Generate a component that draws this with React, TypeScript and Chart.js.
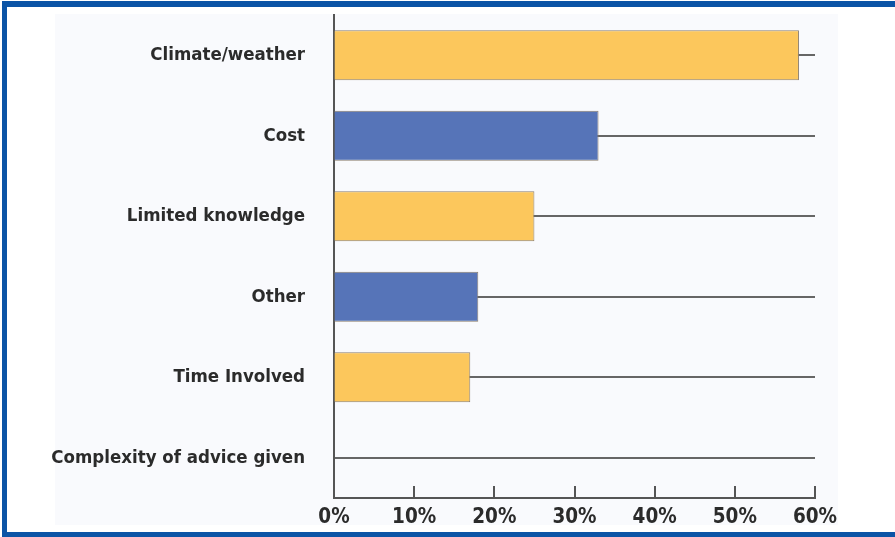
import React, { useEffect, useRef } from "react";
import { Chart, registerables } from "chart.js";

Chart.register(...registerables);

const categories = [
  "Climate/weather",
  "Cost",
  "Limited knowledge",
  "Other",
  "Time Involved",
  "Complexity of advice given",
];
const values = [58, 33, 25, 18, 17, 0];
const barColors = ["#fcc75c", "#5674b8", "#fcc75c", "#5674b8", "#fcc75c", "#fcc75c"];
const xTicks = [0, 10, 20, 30, 40, 50, 60];

const FONT = "'Liberation Sans Narrow', 'DejaVu Sans Condensed', 'Arial Narrow', sans-serif";

const inwardTicks = {
  id: "inwardTicks",
  afterDatasetsDraw(chart: any) {
    const x = chart.scales.x;
    const ctx = chart.ctx;
    const bottom = chart.chartArea.bottom;
    ctx.save();
    ctx.strokeStyle = "#555555";
    ctx.lineWidth = 2;
    x.ticks.forEach((_t: any, i: number) => {
      if (i === 0) return;
      const px = Math.round(x.getPixelForTick(i));
      ctx.beginPath();
      ctx.moveTo(px, bottom);
      ctx.lineTo(px, bottom - 12);
      ctx.stroke();
    });
    ctx.restore();
  },
};

export default function App() {
  const ref = useRef<HTMLCanvasElement>(null);
  useEffect(() => {
    document.body.style.margin = "0";
    const chart = new Chart(ref.current!, {
      type: "bar",
      data: {
        labels: categories,
        datasets: [
          {
            data: values,
            backgroundColor: barColors,
            borderColor: "#8c7f6e",
            borderWidth: 1,
            barPercentage: 0.62,
            categoryPercentage: 1,
          },
        ],
      },
      options: {
        indexAxis: "y",
        responsive: false,
        animation: false,
        layout: { padding: { left: 0, right: 80, top: 15, bottom: 0 } },
        plugins: { legend: { display: false }, tooltip: { enabled: false } },
        scales: {
          x: {
            min: 0,
            max: 60,
            afterBuildTicks: (s: any) => {
              s.ticks = xTicks.map((v) => ({ value: v }));
            },
            afterFit: (s: any) => {
              s.height = 39;
              s.paddingLeft = 0;
              s.paddingRight = 0;
            },
            grid: { drawOnChartArea: false, drawTicks: false, color: "rgba(0,0,0,0)" },
            border: { display: true, color: "#555555", width: 2 },
            ticks: {
              padding: 7,
              color: "#2b2b2b",
              font: { family: FONT, size: 20.5, weight: "bold" },
              callback: (v: any) => v + "%",
              maxRotation: 0,
            },
          },
          y: {
            type: "category",
            afterFit: (s: any) => {
              s.width = 334;
              s.paddingTop = 0;
              s.paddingBottom = 0;
            },
            grid: { offset: false, drawTicks: false, color: "#666666", lineWidth: 2 },
            border: { display: true, color: "#555555", width: 2 },
            ticks: {
              padding: 29,
              color: "#2b2b2b",
              font: { family: FONT, size: 18.5, weight: "bold" },
            },
          },
        },
      },
      plugins: [inwardTicks],
    });
    return () => chart.destroy();
  }, []);
  return (
    <div style={{ position: "fixed", left: 0, top: 0, width: 895, height: 537, background: "#fff", overflow: "hidden" }}>
      <div
        style={{
          position: "absolute",
          left: 2,
          top: 1,
          right: -10,
          bottom: 0,
          borderTop: "6px solid #0b54a6",
          borderLeft: "5px solid #0b54a6",
          borderBottom: "5px solid #0b54a6",
        }}
      />
      <div style={{ position: "absolute", left: 55, top: 14, width: 783, height: 511, background: "#f9fafd" }} />
      <canvas ref={ref} width={895} height={537} style={{ position: "absolute", left: 0, top: 0 }} />
    </div>
  );
}
